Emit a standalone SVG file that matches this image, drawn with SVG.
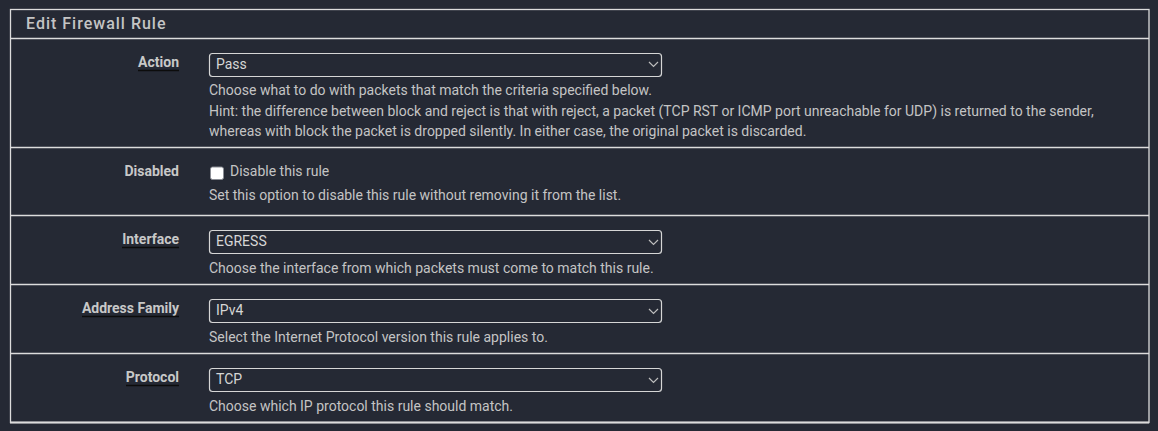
<svg xmlns="http://www.w3.org/2000/svg" width="1158" height="431" viewBox="0 0 1158 431">
<style>
.bg{fill:#252934}
.frame{fill:none;stroke:#dcdcdc;stroke-width:1.3}
.sep{stroke:#dcdcdc;stroke-width:1.3}
.hdr{font-family:Roboto,"Liberation Sans",sans-serif;font-size:16px;font-weight:500;fill:#c4c4c4;letter-spacing:1px}
.lbl{font-family:Roboto,"Liberation Sans",sans-serif;font-size:14px;font-weight:bold;fill:#c8c8c8;text-anchor:end}
.ul{stroke:#0c0c0c;stroke-width:1.5}
.help{font-family:Roboto,"Liberation Sans",sans-serif;font-size:14px;fill:#c4c4c4}
.sel{fill:none;stroke:#d6d6d6;stroke-width:1.2}
.seltxt{font-family:Roboto,"Liberation Sans",sans-serif;font-size:14px;fill:#d6d6d6}
.chev{fill:none;stroke:#bdbdbd;stroke-width:1.2}
</style>
<rect class="bg" x="0" y="0" width="1158" height="431"/>
<g id="panel">
<rect class="frame" x="10.5" y="9.5" width="1138.5" height="413"/>
<line class="sep" x1="10.5" y1="38.5" x2="1149" y2="38.5"/>
<text class="hdr" x="26" y="29">Edit Firewall Rule</text>
<line x1="10" y1="422.5" x2="1149" y2="422.5" stroke="#dcdcdc" stroke-width="2.2"/>
</g>
<g id="connectors">
<line class="sep" x1="10.5" y1="147.5" x2="1149" y2="147.5"/>
<line class="sep" x1="10.5" y1="215.5" x2="1149" y2="215.5"/>
<line class="sep" x1="10.5" y1="284.5" x2="1149" y2="284.5"/>
<line class="sep" x1="10.5" y1="353.5" x2="1149" y2="353.5"/>
</g>
<g id="row-action">
<text class="lbl" x="179" y="67">Action</text>
<line class="ul" x1="138" y1="70.5" x2="179" y2="70.5"/>
<rect class="sel" x="209.5" y="53.5" width="452" height="23" rx="3"/>
<text class="seltxt" x="216" y="69">Pass</text>
<polyline class="chev" points="649,62 653.5,66.5 658,62"/>
<text class="help" x="209" y="95">Choose what to do with packets that match the criteria specified below.</text>
<text class="help" x="209" y="116">Hint: the difference between block and reject is that with reject, a packet (TCP RST or ICMP port unreachable for UDP) is returned to the sender,</text>
<text class="help" x="209" y="136">whereas with block the packet is dropped silently. In either case, the original packet is discarded.</text>
</g>
<g id="row-disabled">
<text class="lbl" x="179" y="176">Disabled</text>
<rect x="210.5" y="167" width="13" height="12.5" rx="2" fill="#ffffff" stroke="#8a8d94" stroke-width="1"/>
<text class="help" x="230" y="176">Disable this rule</text>
<text class="help" x="209" y="200">Set this option to disable this rule without removing it from the list.</text>
</g>
<g id="row-interface">
<text class="lbl" x="179" y="244">Interface</text>
<line class="ul" x1="122" y1="247.5" x2="179" y2="247.5"/>
<rect class="sel" x="209.5" y="230.5" width="452" height="23" rx="3"/>
<text class="seltxt" x="216" y="246">EGRESS</text>
<polyline class="chev" points="649,240 653.5,244.5 658,240"/>
<text class="help" x="209" y="273">Choose the interface from which packets must come to match this rule.</text>
</g>
<g id="row-family">
<text class="lbl" x="179" y="313">Address Family</text>
<line class="ul" x1="82" y1="316.5" x2="179" y2="316.5"/>
<rect class="sel" x="209.5" y="299.5" width="452" height="23" rx="3"/>
<text class="seltxt" x="216" y="315">IPv4</text>
<polyline class="chev" points="649,309 653.5,313.5 658,309"/>
<text class="help" x="209" y="342">Select the Internet Protocol version this rule applies to.</text>
</g>
<g id="row-protocol">
<text class="lbl" x="179" y="382">Protocol</text>
<line class="ul" x1="126" y1="385.5" x2="179" y2="385.5"/>
<rect class="sel" x="209.5" y="368.5" width="452" height="23" rx="3"/>
<text class="seltxt" x="216" y="384">TCP</text>
<polyline class="chev" points="649,378 653.5,382.5 658,378"/>
<text class="help" x="209" y="411">Choose which IP protocol this rule should match.</text>
</g>
</svg>
